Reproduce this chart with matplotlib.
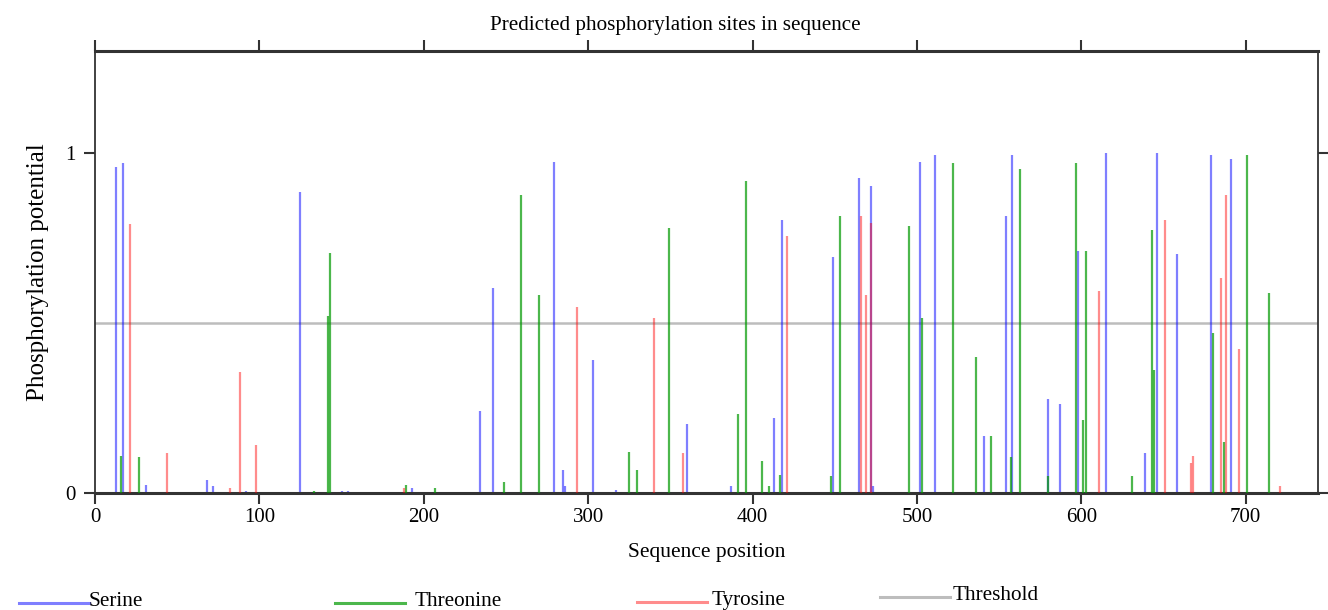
import matplotlib
matplotlib.use("Agg")
import matplotlib.pyplot as plt
from matplotlib.lines import Line2D

plt.rcParams['font.family'] = ['Liberation Serif', 'DejaVu Serif']

# predicted sites: residue position and phosphorylation potential
serine_pos = [13, 17, 31, 68, 72, 92, 125, 150, 154, 193, 234, 242, 279, 285,
              286, 303, 317, 360, 387, 413, 418, 449, 465, 472, 473, 502, 511,
              541, 554, 558, 580, 587, 598, 615, 639, 646, 658, 679, 691]
serine_val = [0.958, 0.97, 0.024, 0.039, 0.02, 0.005, 0.885, 0.005, 0.005,
              0.015, 0.24, 0.603, 0.975, 0.069, 0.02, 0.392, 0.01, 0.203, 0.02,
              0.222, 0.804, 0.694, 0.926, 0.902, 0.02, 0.975, 0.993, 0.167,
              0.816, 0.995, 0.276, 0.263, 0.713, 1.0, 0.118, 1.0, 0.704, 0.995,
              0.982]

threonine_pos = [16, 27, 133, 142, 143, 189, 207, 249, 259, 270, 325, 330,
                 349, 391, 396, 406, 410, 417, 448, 453, 495, 503, 522, 536,
                 545, 557, 563, 580, 597, 601, 603, 631, 643, 644, 680, 687,
                 701, 714]
threonine_val = [0.108, 0.105, 0.005, 0.52, 0.706, 0.025, 0.015, 0.031, 0.877,
                 0.583, 0.122, 0.069, 0.779, 0.233, 0.919, 0.093, 0.02, 0.054,
                 0.049, 0.816, 0.784, 0.515, 0.97, 0.399, 0.167, 0.106, 0.953,
                 0.049, 0.97, 0.216, 0.713, 0.05, 0.774, 0.363, 0.472, 0.149,
                 0.995, 0.588]

tyrosine_pos = [21, 44, 82, 88, 98, 188, 293, 340, 358, 421, 466, 469, 472,
                611, 651, 667, 668, 685, 688, 696, 721]
tyrosine_val = [0.791, 0.118, 0.015, 0.356, 0.142, 0.015, 0.547, 0.515, 0.118,
                0.755, 0.816, 0.583, 0.794, 0.595, 0.804, 0.088, 0.108, 0.632,
                0.877, 0.424, 0.02]

threshold = 0.5
xticks = [0, 100, 200, 300, 400, 500, 600, 700]
yticks = [0, 1]

c_ser = (0.0, 0.0, 1.0)
c_thr = (0.0, 0.6, 0.0)
c_tyr = (1.0, 0.0, 0.0)
c_thresh = '#bdbdbd'

W, H = 1328, 610
fig = plt.figure(figsize=(W / 100, H / 100), dpi=100)
ax = fig.add_axes([95 / W, 1 - 493 / H, (1318 - 95) / W, (493 - 51) / H])

ax.axhline(threshold, color=c_thresh, lw=1.8, zorder=1)
ax.vlines(serine_pos, 0, serine_val, colors=[c_ser], lw=1.6, alpha=0.5, zorder=2)
ax.vlines(threonine_pos, 0, threonine_val, colors=[c_thr], lw=1.6, alpha=0.7, zorder=3)
ax.vlines(tyrosine_pos, 0, tyrosine_val, colors=[c_tyr], lw=1.6, alpha=0.45, zorder=4)

ax.set_xlim(0, 744)
ax.set_ylim(0, 1.30)
ax.set_xticks(xticks)
ax.set_yticks(yticks)
ax.tick_params(axis='both', direction='out', length=8, width=1.5, color='#333333',
               labelsize=15, top=True, right=True)
ax.tick_params(axis='x', pad=3)
ax.tick_params(axis='y', pad=6)
for s in ax.spines.values():
    s.set_color('#333333')
    s.set_linewidth(1.3)
ax.spines['top'].set_linewidth(2.2)
ax.spines['bottom'].set_linewidth(2.2)

ax.set_title('Predicted phosphorylation sites in sequence', fontsize=15.2,
             x=(675 - 95) / (1318 - 95), pad=15)
ax.set_xlabel('Sequence position', fontsize=15.5, labelpad=11)
ax.set_ylabel('Phosphorylation potential', fontsize=18, labelpad=12)

# legend row under the chart
legend_items = [('Serine', c_ser, 0.5, 19, 89, 603),
                ('Threonine', c_thr, 0.7, 335, 415, 603),
                ('Tyrosine', c_tyr, 0.45, 637, 712, 602),
                ('Threshold', c_thresh, 1.0, 880, 953, 597)]
for label, col, a, x0, xt, y0 in legend_items:
    fig.add_artist(Line2D([x0 / W, (x0 + 70) / W], [1 - y0 / H, 1 - y0 / H],
                          color=col, alpha=a, lw=2.2, transform=fig.transFigure))
    fig.text(xt / W, 1 - (y0 - 1) / H, label, fontsize=15.3,
             ha='left', va='center')

fig.savefig('out.png', dpi=100)
